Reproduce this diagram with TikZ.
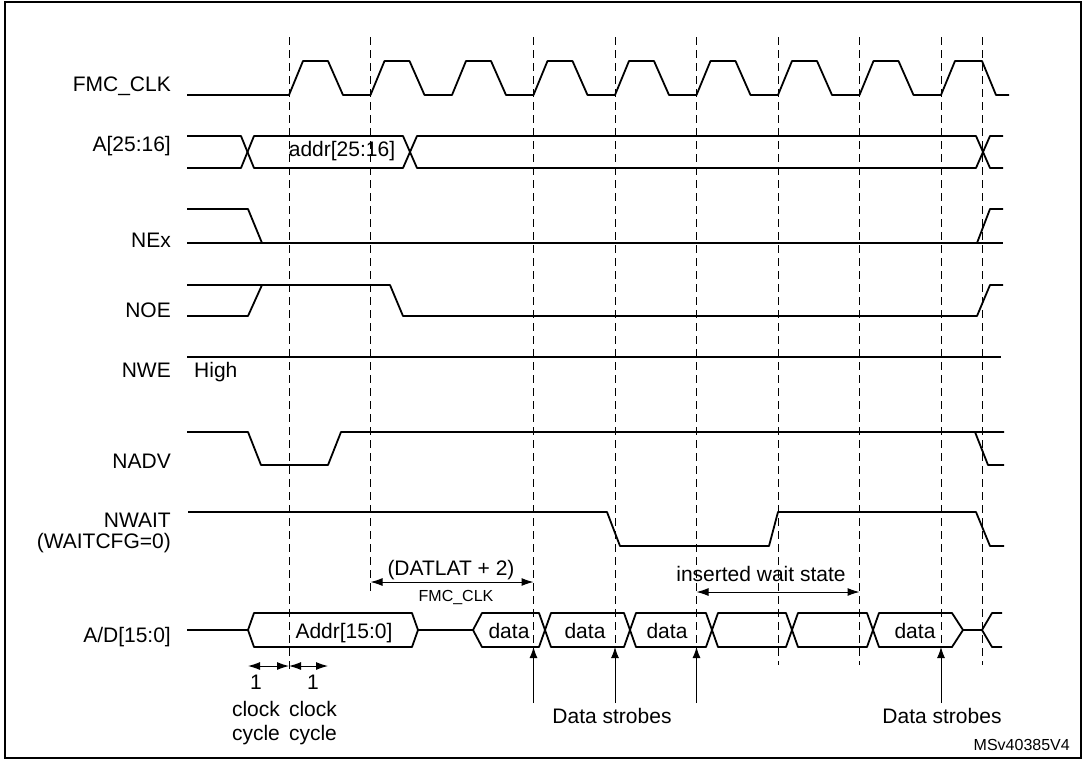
\documentclass[tikz,border=0pt]{standalone}
\usepackage{fontspec}
\setmainfont{Liberation Sans}
\usetikzlibrary{arrows.meta}

\begin{document}
\begin{tikzpicture}[
    x=1pt, y=-1pt,
    signal/.style={line width=1.8pt, line join=round},
    edge line/.style={line width=1pt, dash pattern=on 8pt off 5pt},
    signame/.style={anchor=base east, inner sep=0pt, font=\fontsize{21}{25}\selectfont},
    txt/.style={anchor=base, inner sep=0pt, font=\fontsize{21}{25}\selectfont},
    small txt/.style={anchor=base, inner sep=0pt, font=\fontsize{16}{19}\selectfont},
    period arrow/.style={line width=1pt, {Latex[length=12pt,width=8pt]}-{Latex[length=12pt,width=8pt]}},
    strobe/.style={line width=1pt, -{Latex[length=11pt,width=8pt]}}
]
\useasboundingbox (0,0) rectangle (1085,761);
\draw [line width=1.6pt] (5,2) rectangle (1081,758);

% clock edges
\foreach \xx/\yy [count=\i] in {289/672, 370.5/593, 533.5/647, 615/647, 696.5/647, 778/665, 859.5/665, 941/647, 982/665}
    \draw [edge line] (\xx,37) -- (\xx,\yy) coordinate (edge-\i);

% signal names
\node [signame] (clk name) at (171,91) {FMC\_CLK};
\node [signame] (ahi name) at (171,151) {A[25:16]};
\node [signame] (ne name) at (171,247) {NEx};
\node [signame] (noe name) at (171,317) {NOE};
\node [signame] (nwe name) at (171,377) {NWE};
\node [signame] (nadv name) at (171,468) {NADV};
\node [signame] (nwait name) at (171,527) {NWAIT};
\node [signame] (waitcfg name) at (171,548) {(WAITCFG=0)};
\node [signame] (ad name) at (171,642) {A/D[15:0]};

% FMC_CLK
\draw [signal] (187,95)
    foreach \k in {0,...,7} { -- ({289+81.5*\k},95) -- ++(14,-34) -- ++(25,0) -- ++(15,34) }
    -- (941,95) -- ++(14,-34) -- ++(27,0) -- ++(14,34) -- (1009,95);

% A[25:16]
\draw [signal] (187,136) -- (241,136) -- (254,168) -- (403,168) -- (417,136) -- (976,136) -- (990,168) -- (1003,168);
\draw [signal] (187,168) -- (241,168) -- (254,136) -- (403,136) -- (417,168) -- (976,168) -- (990,136) -- (1003,136);
\node [txt] (ahi val) at (342,156) {addr[25:16]};

% NEx
\draw [signal] (187,209) -- (248,209) -- (262,243);
\draw [signal] (187,243) -- (1003,243);
\draw [signal] (977,243) -- (990,209) -- (1003,209);

% NOE
\draw [signal] (187,316) -- (248,316) -- (262,285);
\draw [signal] (187,285) -- (390,285) -- (403,316) -- (977,316) -- (990,285) -- (1003,285);

% NWE
\draw [signal] (187,357) -- (1001,357);
\node [anchor=base west, inner sep=0pt, font=\fontsize{21}{25}\selectfont] (nwe val) at (194,377) {High};

% NADV
\draw [signal] (187,432) -- (248,432) -- (261,465) -- (328,465) -- (341,432) -- (1004,432);
\draw [signal] (975,432) -- (988,465) -- (1004,465);

% NWAIT
\draw [signal] (188,512) -- (607,512) -- (620,546) -- (769,546) -- (778,512) -- (976,512) -- (990,546) -- (1004,546);

% A/D[15:0]
\draw [signal] (187,630) -- (248,630) -- (254,613) -- (412,613) -- (418,630) -- (412,647) -- (254,647) -- (248,630);
\draw [signal] (418,630) -- (473,630);
\draw [signal] (473,630) -- (482,613) -- (539,613) -- (551,647) -- (624,647) -- (636,613) -- (706,613) -- (718,647)
    -- (786,647) -- (798,613) -- (867,613) -- (879,647) -- (952,647) -- (963,630);
\draw [signal] (473,630) -- (482,647) -- (539,647) -- (551,613) -- (624,613) -- (636,647) -- (706,647) -- (718,613)
    -- (786,613) -- (798,647) -- (867,647) -- (879,613) -- (952,613) -- (963,630);
\draw [signal] (963,630) -- (982,630) -- (992,613) -- (1002,613);
\draw [signal] (982,630) -- (992,647) -- (1002,647);
\node [txt] (ad addr) at (344,638) {Addr[15:0]};
\node [txt] (data 1) at (509,638) {data};
\node [txt] (data 2) at (585,638) {data};
\node [txt] (data 3) at (667,638) {data};
\node [txt] (data 4) at (915,638) {data};

% latency and wait state
\node [txt] (datlat) at (451,575) {(DATLAT + 2)};
\node [small txt] (datlat unit) at (456,601) {FMC\_CLK};
\coordinate (datlat arrow) at (451,582);
\draw [period arrow] (edge-2 |- datlat arrow) -- (edge-3 |- datlat arrow);
\node [txt] (wait) at (761,581) {inserted wait state};
\coordinate (wait arrow) at (778,592);
\draw [period arrow] (edge-5 |- wait arrow) -- (edge-7 |- wait arrow);

% clock cycles
\coordinate (cc left) at (248,666);
\coordinate (cc right) at (328,666);
\draw [period arrow] (cc left) -- (cc left -| edge-1);
\draw [period arrow] (cc left -| edge-1) -- (cc right);
\node [txt] (one a) at (256,689) {1};
\node [txt] (one b) at (313,689) {1};
\node [txt] (clock a) at (256,716) {clock};
\node [txt] (clock b) at (313,716) {clock};
\node [txt] (cycle a) at (256,740) {cycle};
\node [txt] (cycle b) at (313,740) {cycle};

% data strobes
\foreach \i in {3,4,5,8}
    \draw [strobe] (edge-\i) ++(0,56) coordinate (foot-\i) -- (edge-\i);
\node [txt] (strobes a) at (612,723) {Data strobes};
\node [txt] (strobes b) at (942,723) {Data strobes};

\node [small txt, anchor=base east] (ref) at (1070,750) {MSv40385V4};
\end{tikzpicture}
\end{document}
